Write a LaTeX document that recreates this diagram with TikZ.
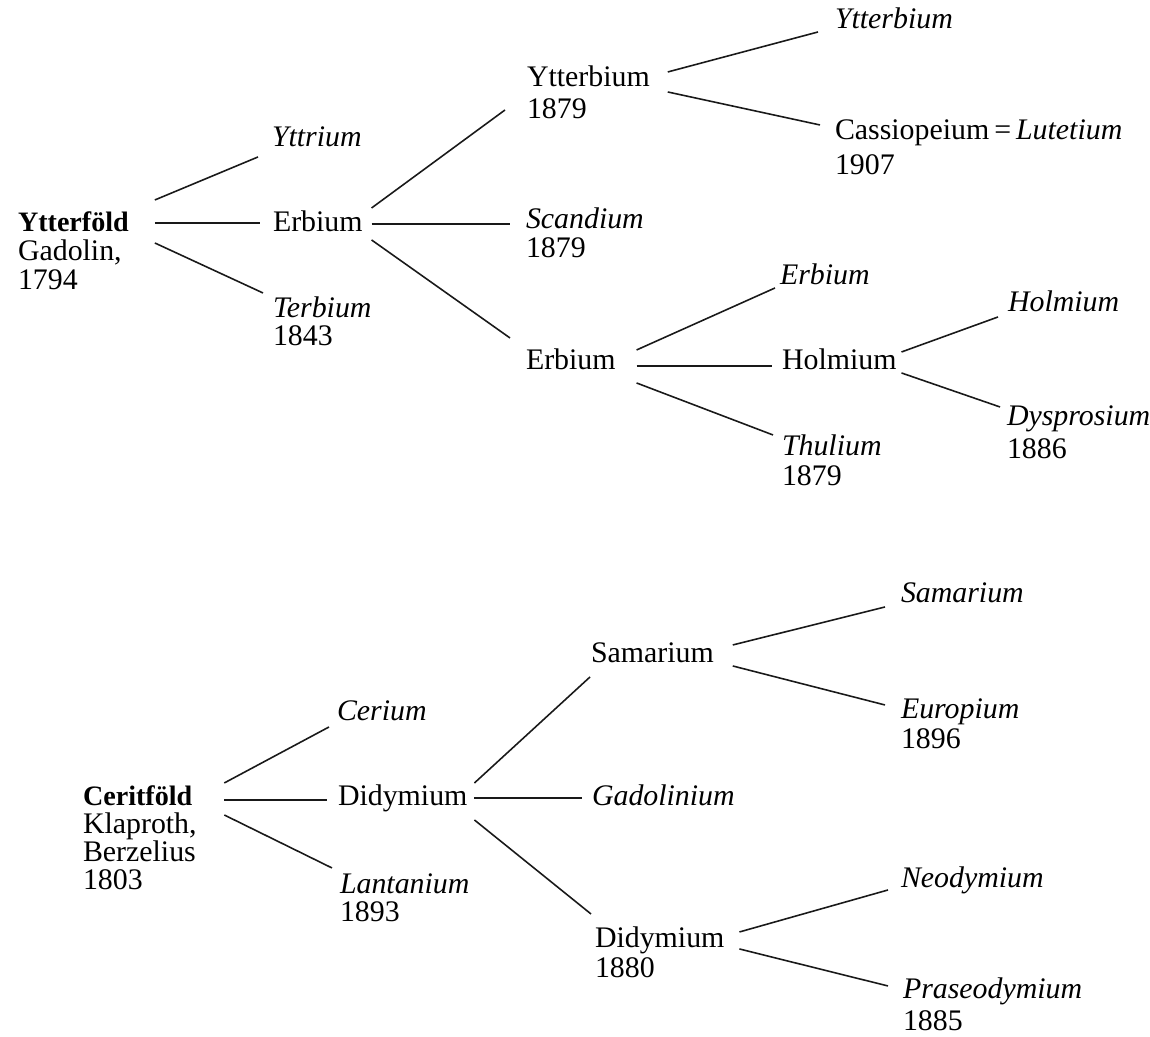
\documentclass[tikz,border=0pt]{standalone}
\usepackage{fontspec}
\setmainfont{Liberation Serif}
\usetikzlibrary{calc,positioning}
\tikzset{
  el/.style={inner sep=0pt,outer sep=0pt,text height=11pt,text depth=3pt,anchor=base west,font=\fontsize{17}{19}\selectfont},
  elit/.style={el,font=\fontsize{17}{19}\selectfont\itshape},
  root/.style={el,font=\fontsize{16}{19}\selectfont\bfseries},
  branch/.style={line width=0.9pt,black!90}
}

\begin{document}
\begin{tikzpicture}[x=0.02cm,y=-0.02cm]
  \useasboundingbox (0,0) rectangle (1150,1037);
  % Ytterföld
  \node[root] (ytf) at (18,232) {Ytterföld};
  \node[el] (ytf-a) at (18,261) {Gadolin,};
  \node[el] (ytf-b) at (18,290) {1794};
  \node[elit] (yt) at (272,147) {Yttrium};
  \node[el] (er) at (273,232) {Erbium};
  \node[elit] (tb) at (273,317) {Terbium};
  \node[el] (tb-y) at (273,346) {1843};
  \node[el] (yb) at (527,87) {Ytterbium};
  \node[el] (yb-y) at (527,119) {1879};
  \node[elit] (sc) at (526,229) {Scandium};
  \node[el] (sc-y) at (526,258) {1879};
  \node[el] (er2) at (526,370) {Erbium};
  \node[elit] (yb2) at (835,29) {Ytterbium};
  \node[el] (lu) at (835,140) {Cassiopeium\,=\,\textit{Lutetium}};
  \node[el] (lu-y) at (835,175) {1907};
  \node[elit] (er3) at (780,285) {Erbium};
  \node[el] (ho) at (782,370) {Holmium};
  \node[elit] (tm) at (782,455) {Thulium};
  \node[el] (tm-y) at (782,485) {1879};
  \node[elit] (ho2) at (1008,312) {Holmium};
  \node[elit] (dy) at (1007,425) {Dysprosium};
  \node[el] (dy-y) at (1007,458) {1886};
  % Ceritföld
  \node[root] (cef) at (83,805) {Ceritföld};
  \node[el] (cef-a) at (83,833) {Klaproth,};
  \node[el] (cef-b) at (83,861) {Berzelius};
  \node[el] (cef-c) at (83,889) {1803};
  \node[elit] (ce) at (337,720) {Cerium};
  \node[el] (di) at (338,805) {Didymium};
  \node[elit] (la) at (340,893) {Lantanium};
  \node[el] (la-y) at (340,921) {1893};
  \node[el] (sm) at (591,662) {Samarium};
  \node[elit] (gd) at (592,805) {Gadolinium};
  \node[el] (di2) at (595,947) {Didymium};
  \node[el] (di2-y) at (595,977) {1880};
  \node[elit] (sm2) at (901,602) {Samarium};
  \node[elit] (eu) at (901,718) {Europium};
  \node[el] (eu-y) at (901,748) {1896};
  \node[elit] (nd) at (901,887) {Neodymium};
  \node[elit] (pr) at (903,998) {Praseodymium};
  \node[el] (pr-y) at (903,1030) {1885};
  % parent/child/gap at parent/dy at parent/gap at child/dy at child
  \foreach \p/\c/\g/\a/\h/\b in {
    ytf/yt/26/-25/14/17, ytf/er/26/-2/13/-2, ytf/tb/26/18/10/-17,
    er/yb/9/-17/22/30, er/sc/9/-1/16/2, er/er2/9/15/16/-25,
    yb/yb2/18/-8/17/10, yb/lu/18/12/15/-8,
    er2/er3/21/-13/5/10, er2/ho/21/3/10/3, er2/tm/21/20/9/-13,
    ho/ho2/5/-11/10/12, ho/dy/5/10/7/-11,
    cef/ce/32/-15/8/14, cef/di/32/2/11/2, cef/la/32/17/8/-18,
    di/sm/7/-15/1/22, di/gd/7/0/10/0, di/di2/7/22/4/-26,
    sm/sm2/19/-10/16/12, sm/eu/19/11/16/-6,
    di2/nd/15/-8/13/10, di2/pr/15/9/15/-5}
    \draw[branch] ($(\p.east)+(\g,\a)$) -- ($(\c.west)+(-\h,\b)$);
\end{tikzpicture}
\end{document}
